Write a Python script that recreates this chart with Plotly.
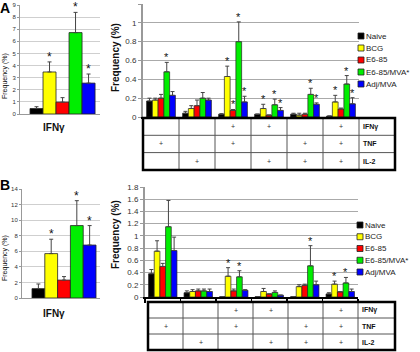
import plotly.graph_objects as go

# ---------------- data ----------------
series = ["Naive", "BCG", "E6-85", "E6-85/MVA*", "Adj/MVA"]
colors = ["#000000", "#FFFF00", "#FF0000", "#00EE00", "#0000FF"]

# Panel A, total IFNg
A_ifn_mean = [0.45, 3.47, 0.98, 6.72, 2.55]
A_ifn_err = [0.15, 0.83, 0.37, 1.67, 0.75]
A_ifn_star = [0, 1, 0, 1, 1]

# Panel A, cytokine subsets (6 combinations) per series
A_naive = [0.17, 0.04, 0.03, 0.03, 0.03, 0.01]
A_bcg = [0.18, 0.09, 0.43, 0.09, 0.02, 0.16]
A_e685 = [0.20, 0.12, 0.07, 0.02, 0.03, 0.085]
A_mva = [0.48, 0.20, 0.80, 0.13, 0.24, 0.35]
A_adj = [0.23, 0.18, 0.16, 0.07, 0.135, 0.14]
A_naive_err = [0.03, 0.02, 0.005, 0.0, 0.01, 0.0]
A_bcg_err = [0.02, 0.03, 0.11, 0.045, 0.02, 0.07]
A_e685_err = [0.04, 0.06, 0.01, 0.0, 0.01, 0.01]
A_mva_err = [0.10, 0.06, 0.21, 0.06, 0.065, 0.09]
A_adj_err = [0.04, 0.02, 0.06, 0.03, 0.015, 0.065]
A_naive_star = [0, 0, 0, 0, 0, 0]
A_bcg_star = [0, 0, 1, 1, 0, 1]
A_e685_star = [0, 0, 1, 0, 0, 0]
A_mva_star = [1, 0, 1, 1, 1, 1]
A_adj_star = [0, 0, 1, 1, 1, 1]

# Panel B, total IFNg
B_ifn_mean = [1.2, 5.7, 2.3, 9.3, 6.8]
B_ifn_err = [0.6, 1.85, 0.45, 3.2, 2.5]
B_ifn_star = [0, 1, 0, 1, 1]

# Panel B, cytokine subsets
B_naive = [0.38, 0.07, 0.005, 0.005, 0.005, 0.05]
B_bcg = [0.75, 0.09, 0.34, 0.09, 0.17, 0.21]
B_e685 = [0.50, 0.10, 0.10, 0.05, 0.19, 0.085]
B_mva = [1.15, 0.10, 0.33, 0.075, 0.51, 0.23]
B_adj = [0.76, 0.09, 0.11, 0.03, 0.20, 0.09]
B_naive_err = [0.07, 0.03, 0.0, 0.0, 0.0, 0.02]
B_bcg_err = [0.17, 0.03, 0.14, 0.05, 0.03, 0.05]
B_e685_err = [0.05, 0.03, 0.03, 0.0, 0.02, 0.0]
B_mva_err = [0.43, 0.03, 0.10, 0.025, 0.33, 0.09]
B_adj_err = [0.22, 0.04, 0.01, 0.0, 0.06, 0.04]
B_naive_star = [0, 0, 0, 0, 0, 0]
B_bcg_star = [0, 0, 1, 0, 0, 1]
B_e685_star = [0, 0, 0, 0, 0, 0]
B_mva_star = [0, 0, 1, 0, 1, 1]
B_adj_star = [0, 0, 0, 0, 0, 0]

# table of cytokine combinations
row_labels = ["IFNγ", "TNF", "IL-2"]
ifn_flag = [0, 0, 1, 1, 0, 1]
tnf_flag = [1, 0, 1, 0, 1, 1]
il2_flag = [0, 1, 0, 1, 1, 1]

groups = list(range(6))

# ---------------- layout helpers ----------------
W, H = 420, 352
FONT = "Arial, Liberation Sans, sans-serif"


def fx(p):
    return p / W


def fy(p):
    return 1 - p / H


fig = go.Figure()
annotations = []
shapes = []

BAR_W = 0.16


def note(x, y, text, size, xanchor="center", yanchor="middle", color="#111", **kw):
    d = dict(x=fx(x), y=fy(y), xref="paper", yref="paper", text=text, showarrow=False,
             xanchor=xanchor, yanchor=yanchor, borderpad=0, borderwidth=0,
             font=dict(size=size, color=color, family=FONT))
    d.update(kw)
    annotations.append(d)


def add_total(xa, ya, mean, err, star):
    for s in range(5):
        fig.add_trace(go.Bar(
            x=[s], y=[mean[s]], width=1, xaxis=xa, yaxis=ya,
            marker=dict(color=colors[s], line=dict(color="#222", width=0.8)),
            error_y=dict(type="data", symmetric=False, array=[err[s]], arrayminus=[0],
                         color="#444", thickness=1, width=2),
            showlegend=False, name=series[s]))
        if star[s]:
            annotations.append(dict(x=s, y=mean[s] + err[s], xref=xa, yref=ya, text="*",
                                    showarrow=False, xanchor="center", yanchor="bottom", yshift=-4,
                                    font=dict(size=12, color="#111", family=FONT)))


def add_subsets(xa, ya, means, errs, stars):
    for s in range(5):
        fig.add_trace(go.Bar(
            x=groups, y=means[s], width=BAR_W, offset=-0.4 + s * BAR_W, xaxis=xa, yaxis=ya,
            marker=dict(color=colors[s], line=dict(color="#222", width=0.7)),
            error_y=dict(type="data", symmetric=False, array=errs[s], arrayminus=[0] * 6,
                         color="#444", thickness=1, width=2),
            showlegend=False, name=series[s]))
        for g in groups:
            if stars[s][g]:
                annotations.append(dict(x=g - 0.4 + s * BAR_W + BAR_W / 2, y=means[s][g] + errs[s][g],
                                        xref=xa, yref=ya, text="*", showarrow=False,
                                        xanchor="center", yanchor="bottom", yshift=-3,
                                        font=dict(size=11, color="#111", family=FONT)))


add_total("x", "y", A_ifn_mean, A_ifn_err, A_ifn_star)
add_subsets("x2", "y2", [A_naive, A_bcg, A_e685, A_mva, A_adj],
            [A_naive_err, A_bcg_err, A_e685_err, A_mva_err, A_adj_err],
            [A_naive_star, A_bcg_star, A_e685_star, A_mva_star, A_adj_star])
add_total("x3", "y3", B_ifn_mean, B_ifn_err, B_ifn_star)
add_subsets("x4", "y4", [B_naive, B_bcg, B_e685, B_mva, B_adj],
            [B_naive_err, B_bcg_err, B_e685_err, B_mva_err, B_adj_err],
            [B_naive_star, B_bcg_star, B_e685_star, B_mva_star, B_adj_star])


def table(left, top, col_w, label_w, row_h):
    right = left + 6 * col_w + label_w
    bottom = top + 3 * row_h
    for k in range(1, 7):
        xk = left + k * col_w
        shapes.append(dict(type="line", xref="paper", yref="paper", x0=fx(xk), x1=fx(xk),
                           y0=fy(top), y1=fy(bottom), line=dict(color="#555", width=1)))
    for r in range(1, 3):
        yr = top + r * row_h
        shapes.append(dict(type="line", xref="paper", yref="paper", x0=fx(left), x1=fx(right),
                           y0=fy(yr), y1=fy(yr), line=dict(color="#555", width=1)))
    shapes.append(dict(type="rect", xref="paper", yref="paper", x0=fx(left), x1=fx(right),
                       y0=fy(top), y1=fy(bottom), line=dict(color="#000", width=2.5)))
    for r, flags in enumerate([ifn_flag, tnf_flag, il2_flag]):
        yc = top + (r + 0.5) * row_h
        for g in groups:
            if flags[g]:
                note(left + (g + 0.5) * col_w, yc, "+", 7, color="#333")
        note(left + 6 * col_w + 4, yc, "<b>%s</b>" % row_labels[r], 7, xanchor="left")


table(143, 118, 36, 36, 17.3)
table(148, 302, 35, 37, 16)


def legend(x_sym, y_top, step):
    for s in range(5):
        yc = y_top + s * step
        shapes.append(dict(type="rect", xref="paper", yref="paper", x0=fx(x_sym), x1=fx(x_sym + 6),
                           y0=fy(yc - 3), y1=fy(yc + 3), fillcolor=colors[s],
                           line=dict(color="#222", width=0.8)))
        note(x_sym + 8, yc, series[s], 8, xanchor="left", color="#222")


legend(358, 36, 12)
legend(357, 225, 11.75)

# labels
note(0, 0, "<b>A</b>", 14, xanchor="left", yanchor="top", color="#000")
note(0, 177, "<b>B</b>", 14, xanchor="left", yanchor="top", color="#000")
note(54, 127, "<b>IFNγ</b>", 10)
note(54, 313, "<b>IFNγ</b>", 10)
note(5, 76, "Frequency (%)", 7, textangle=-90)
note(115, 58, "<b>Frequency (%)</b>", 10, textangle=-90)
note(5, 258, "Frequency (%)", 7, textangle=-90)
note(115, 235, "<b>Frequency (%)</b>", 10, textangle=-90)

small_y = dict(showgrid=True, gridcolor="#cfcfcf", gridwidth=1, showline=True, linecolor="#999",
               linewidth=1, ticks="outside", ticklen=2, tickcolor="#999",
               tickfont=dict(size=6, color="#333", family=FONT), zeroline=False, fixedrange=True)
big_y = dict(showgrid=True, gridcolor="#aaaaaa", gridwidth=1, showline=True, linecolor="#999",
             linewidth=2, ticks="outside", ticklen=3, tickcolor="#999",
             tickfont=dict(size=8, color="#333", family=FONT), zeroline=False, fixedrange=True)
small_x = dict(showticklabels=False, showgrid=False, zeroline=False, showline=True,
               linecolor="#999", linewidth=1, ticks="", fixedrange=True)

fig.update_layout(
    width=W, height=H, margin=dict(l=0, r=0, t=0, b=0, autoexpand=False),
    paper_bgcolor="white", plot_bgcolor="white", barmode="overlay",
    font=dict(family=FONT), hovermode=False,
    xaxis=dict(domain=[fx(20), fx(100)], range=[-1.27, 4.88], anchor="y", **small_x),
    yaxis=dict(domain=[fy(114), fy(5)], range=[0, 9], dtick=1, anchor="x", **small_y),
    xaxis2=dict(domain=[fx(143), fx(359)], range=[-0.5, 5.5], anchor="y2", showticklabels=False,
                showgrid=False, zeroline=False, showline=True, linecolor="#000", linewidth=2,
                fixedrange=True),
    yaxis2=dict(domain=[fy(117), fy(4)], range=[0, 1.2], dtick=0.2, anchor="x2", **big_y),
    xaxis3=dict(domain=[fx(22), fx(100)], range=[-1.28, 4.81], anchor="y3", **small_x),
    yaxis3=dict(domain=[fy(298), fy(189)], range=[0, 14], dtick=2, anchor="x3", **small_y),
    xaxis4=dict(domain=[fx(145), fx(358)], range=[-0.5, 5.5], anchor="y4", showticklabels=False,
                showgrid=False, zeroline=False, showline=True, linecolor="#000", linewidth=2,
                ticks="outside", tickvals=[g - 0.5 for g in groups] + [5.5], ticklen=4,
                tickcolor="#000", tickwidth=1.5, fixedrange=True),
    yaxis4=dict(domain=[fy(297), fy(187)], range=[0, 1.8], dtick=0.2, anchor="x4", **big_y),
    annotations=annotations, shapes=shapes,
)

fig.write_html("out.html", config={"displayModeBar": False, "staticPlot": True},
               post_script="document.body.style.margin='0';document.body.style.overflow='hidden';")
